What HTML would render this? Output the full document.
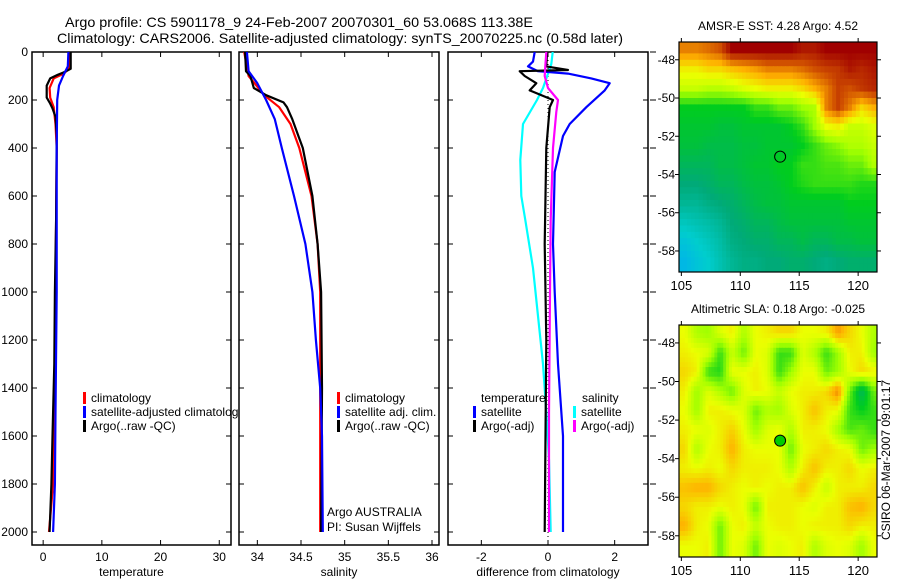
<!DOCTYPE html>
<html><head><meta charset="utf-8"><style>
html,body{margin:0;padding:0;background:#fff;width:900px;height:580px;overflow:hidden}
svg{display:block;font-family:"Liberation Sans",sans-serif}
</style></head><body>
<svg id="fig" width="900" height="580" viewBox="0 0 900 580">
<text x="65" y="27" font-size="14" textLength="468" lengthAdjust="spacingAndGlyphs">Argo profile: CS 5901178_9 24-Feb-2007 20070301_60 53.068S 113.38E</text>
<text x="57" y="43" font-size="14" textLength="566" lengthAdjust="spacingAndGlyphs">Climatology: CARS2006. Satellite-adjusted climatology: synTS_20070225.nc (0.58d later)</text>
<defs>
<clipPath id="c1"><rect x="32" y="52" width="199" height="493"/></clipPath>
<clipPath id="c2"><rect x="239" y="52" width="200" height="493"/></clipPath>
<clipPath id="c3"><rect x="448" y="52" width="200" height="493"/></clipPath>
<clipPath id="cm1"><rect x="679" y="42" width="198" height="230"/></clipPath>
<clipPath id="cm2"><rect x="679" y="325" width="198" height="232"/></clipPath>
<clipPath id="cleg"><rect x="32" y="52" width="206" height="493"/></clipPath>
</defs>
<g id="g1"></g><g id="g2"></g><g id="g3"></g><g id="gm1"></g><g id="gm2"></g>
</svg>
<script>
// ---------- profile data (depth, value) ----------
const tempDepth = [0,70,85,95,110,140,190,215,235,270,350,700,1000,1300,1600,1800,2000];
const tempArgo  = [4.7,4.7,3.5,2.5,1.2,0.6,0.6,1.2,1.6,2.1,2.3,2.2,2.0,1.9,1.6,1.4,1.1];
const tempClimDepth = [0,70,90,110,150,190,230,300,400,1000,1500,1800,2000];
const tempClim  = [4.6,4.4,3.5,1.8,1.1,1.2,1.8,2.1,2.3,2.1,1.9,1.7,1.0];
const tempSatDepth = [0,60,100,140,200,400,1000,1500,1800,2000];
const tempSat   = [4.3,4.2,3.4,2.7,2.4,2.3,2.3,2.1,2.0,1.7];

const salArgoDepth = [0,80,100,150,180,210,230,280,350,400,600,800,1000,1400,2000];
const salArgo   = [33.86,33.87,33.92,33.96,34.1,34.3,34.34,34.4,34.47,34.52,34.63,34.69,34.73,34.74,34.73];
const salClimDepth = [0,100,180,230,300,400,600,800,1000,2000];
const salClim   = [33.85,33.9,34.08,34.25,34.38,34.48,34.62,34.69,34.72,34.72];
const salSatDepth = [0,80,130,200,280,400,600,800,1000,1200,1400,1600,2000];
const salSat    = [33.88,33.9,34.0,34.1,34.2,34.28,34.42,34.55,34.63,34.67,34.72,34.74,34.75];

const dTSatDepth = [0,40,60,80,90,110,130,160,230,300,350,500,800,1000,1300,1600,2000];
const dTSat      = [-0.4,-0.45,-0.6,-0.3,0.6,1.3,1.85,1.7,1.15,0.65,0.45,0.2,0.15,0.2,0.3,0.45,0.45];
const dTArgoDepth = [0,60,75,80,100,130,160,200,230,400,800,1200,2000];
const dTArgo      = [-0.03,-0.05,0.6,-0.85,-0.7,-0.35,-0.55,0.15,0.05,-0.05,-0.1,-0.05,-0.1];
const dSSatDepth = [0,50,90,150,200,300,450,600,700,900,1100,1300,1500,1700,2000];
const dSSat      = [0.14,0.1,0,-0.15,-0.33,-0.75,-0.83,-0.8,-0.68,-0.45,-0.3,-0.15,-0.05,0.03,0.08];
const dSArgoDepth = [0,60,100,150,200,250,400,700,1000,1500,2000];
const dSArgo      = [-0.05,-0.08,-0.1,0,0.3,0.25,0.15,0.08,0.06,0.03,0.03];

const depthTicks = [0,200,400,600,800,1000,1200,1400,1600,1800,2000];
const tempTicks = [0,10,20,30];
const salTicks = [34,34.5,35,35.5,36];
const diffTicks = [-2,0,2];

// ---------- map data (1-degree cells, rows from -47 south, cols from 104.8 east) ----------
const sstGrid = [
[.85,.85,.87,.9,1,1,1,1,1,1,.97,.97,1,1,1,1,1],
[.72,.72,.75,.75,.78,.8,.82,.85,.85,.85,.87,.9,.92,.93,.97,.95,.97],
[.65,.65,.63,.63,.65,.68,.7,.72,.72,.72,.75,.8,.85,.92,.9,.93,.95],
[.45,.45,.45,.45,.45,.45,.5,.5,.55,.55,.6,.62,.85,.92,.85,.75,.8],
[.42,.42,.42,.4,.4,.42,.42,.42,.42,.45,.5,.6,.7,.72,.65,.65,.68],
[.4,.4,.38,.38,.38,.4,.4,.42,.42,.42,.45,.5,.55,.58,.62,.62,.65],
[.35,.35,.35,.38,.38,.4,.42,.42,.45,.45,.5,.5,.52,.52,.55,.55,.62],
[.3,.3,.32,.35,.35,.38,.4,.4,.42,.45,.48,.5,.5,.5,.5,.48,.48],
[.25,.25,.28,.3,.32,.35,.38,.4,.4,.42,.42,.42,.42,.42,.45,.45,.45],
[.18,.2,.22,.25,.3,.32,.35,.35,.38,.4,.4,.4,.4,.4,.42,.42,.42],
[.12,.15,.18,.22,.28,.3,.32,.32,.35,.35,.38,.35,.35,.38,.38,.4,.4],
[.08,.12,.15,.2,.25,.28,.28,.3,.3,.32,.32,.3,.28,.3,.32,.32,.32]];
const slaGrid = [
[.7,.62,.6,.68,.72,.62,.7,.72,.75,.75,.7,.7,.72,.82,.75,.7,.62],
[.72,.7,.68,.5,.65,.55,.7,.68,.5,.5,.68,.62,.5,.6,.72,.72,.6],
[.75,.72,.5,.48,.7,.7,.72,.68,.5,.6,.7,.7,.55,.6,.7,.75,.72],
[.72,.6,.68,.62,.55,.68,.72,.7,.65,.7,.72,.72,.75,.85,.55,.35,.55],
[.7,.6,.72,.72,.7,.68,.55,.62,.6,.68,.72,.78,.72,.7,.5,.45,.5],
[.72,.7,.68,.72,.76,.7,.6,.68,.7,.62,.72,.72,.7,.6,.52,.55,.5],
[.75,.62,.7,.72,.8,.72,.7,.7,.7,.55,.7,.72,.75,.72,.7,.55,.6],
[.72,.7,.72,.7,.75,.72,.72,.72,.7,.62,.72,.78,.72,.72,.75,.7,.72],
[.78,.8,.8,.75,.72,.7,.72,.7,.72,.72,.78,.72,.65,.72,.72,.72,.75],
[.75,.72,.72,.7,.72,.7,.55,.72,.72,.72,.7,.68,.72,.72,.78,.8,.75],
[.8,.72,.7,.55,.7,.72,.65,.7,.72,.72,.7,.72,.72,.72,.75,.72,.72],
[.7,.7,.72,.55,.7,.68,.55,.7,.68,.7,.72,.62,.68,.7,.68,.6,.7]];
const lonTicks = [105,110,115,120];
const latTicks = [-48,-50,-52,-54,-56,-58];
const argoLon = 113.38, argoLat = -53.068;

const NS = "http://www.w3.org/2000/svg";
function el(parent, tag, attrs){ const e=document.createElementNS(NS,tag); for(const k in attrs) e.setAttribute(k,attrs[k]); parent.appendChild(e); return e; }

const yD = d => 52 + d*0.24;
function panel(g, x0, x1, vmin, vmax, ticks, fmt, xlabel, name){
  const sx = v => x0 + (v-vmin)/(vmax-vmin)*(x1-x0);
  const frame = el(g,'rect',{x:x0,y:52,width:x1-x0,height:493,fill:'#fff',stroke:'#000','stroke-width':1.5});
  
  
  ticks.forEach(t=>{
    el(g,'line',{x1:sx(t),x2:sx(t),y1:545,y2:540,stroke:'#000'});
    el(g,'line',{x1:sx(t),x2:sx(t),y1:52,y2:57,stroke:'#000'});
    const tl = el(g,'text',{x:sx(t),y:561,'font-size':12,'text-anchor':'middle'});
    tl.textContent = fmt(t);
    
    
  });
  depthTicks.forEach(d=>{
    el(g,'line',{x1:x0,x2:x0+5,y1:yD(d),y2:yD(d),stroke:'#000'});
    el(g,'line',{x1:x1,x2:x1-5,y1:yD(d),y2:yD(d),stroke:'#000'});
  });
  const xl = el(g,'text',{x:(x0+x1)/2,y:576,'font-size':12,'text-anchor':'middle'});
  xl.textContent = xlabel;
  
  
  return sx;
}
function series(g, sx, depths, vals, color, w, clip, name){
  let p = '';
  depths.forEach((d,i)=>{ p += (i?'L':'M') + sx(vals[i]).toFixed(1) + ' ' + yD(d).toFixed(1); });
  const path = el(g,'path',{d:p,fill:'none',stroke:color,'stroke-width':w,'clip-path':'url(#'+clip+')','stroke-linejoin':'round'});
  
  
}
function legend(g, x, y, color, label, name, clip){
  el(g,'rect',{x:x,y:y-10,width:3,height:12,fill:color});
  const attrs = {x:x+8,y:y,'font-size':12};
  if (clip) attrs['clip-path'] = 'url(#'+clip+')';
  const t = el(g,'text',attrs);
  t.textContent = label;
  
  
}
function txt(g,x,y,s,name,extra){
  const t = el(g,'text',Object.assign({x:x,y:y,'font-size':12},extra||{}));
  t.textContent = s;
  
  
  return t;
}

// panel 1: temperature
const g1 = document.getElementById('g1');
const sT = panel(g1, 32, 231, -1.9, 32, tempTicks, v=>String(v), 'temperature', 'temperature-panel');
depthTicks.forEach(d=>{ txt(g1, 28, yD(d)+4, String(d), 'depth-tick-label', {'text-anchor':'end'}); });
series(g1, sT, tempClimDepth, tempClim, '#f00', 2.2, 'c1', 'temperature-climatology-line');
series(g1, sT, tempDepth, tempArgo, '#000', 2.2, 'c1', 'temperature-argo-line');
series(g1, sT, tempSatDepth, tempSat, '#00f', 2.2, 'c1', 'temperature-satellite-line');
legend(g1, 83, 402, '#f00', 'climatology', 'legend-climatology', 'cleg');
legend(g1, 83, 416, '#00f', 'satellite-adjusted climatology', 'legend-satellite-adjusted', 'cleg');
legend(g1, 83, 430, '#000', 'Argo(..raw -QC)', 'legend-argo-raw', 'cleg');

// panel 2: salinity
const g2 = document.getElementById('g2');
const sS = panel(g2, 239, 439, 33.79, 36.08, salTicks, v=>String(v), 'salinity', 'salinity-panel');
series(g2, sS, salClimDepth, salClim, '#f00', 2.2, 'c2', 'salinity-climatology-line');
series(g2, sS, salArgoDepth, salArgo, '#000', 2.2, 'c2', 'salinity-argo-line');
series(g2, sS, salSatDepth, salSat, '#00f', 2.2, 'c2', 'salinity-satellite-line');
legend(g2, 337, 402, '#f00', 'climatology', 'legend-climatology-sal');
legend(g2, 337, 416, '#00f', 'satellite adj. clim.', 'legend-satellite-sal');
legend(g2, 337, 430, '#000', 'Argo(..raw -QC)', 'legend-argo-sal');
txt(g2, 327, 516, 'Argo AUSTRALIA', 'argo-australia-label');
txt(g2, 327, 531, 'PI: Susan Wijffels', 'pi-label');

// panel 3: differences
const g3 = document.getElementById('g3');
const sDf = panel(g3, 448, 648, -3, 3, diffTicks, v=>String(v), 'difference from climatology', 'difference-panel');
depthTicks.forEach(d=>{ el(g3,'line',{x1:650,x2:656,y1:yD(d),y2:yD(d),stroke:'#000'}); });
el(g3,'line',{x1:sDf(0),x2:sDf(0),y1:52,y2:540,stroke:'#000','stroke-dasharray':'1 3'});
series(g3, sDf, dSSatDepth, dSSat, '#0ff', 2.2, 'c3', 'salinity-satellite-diff-line');
series(g3, sDf, dTSatDepth, dTSat, '#00f', 2.2, 'c3', 'temperature-satellite-diff-line');
series(g3, sDf, dTArgoDepth, dTArgo, '#000', 2.2, 'c3', 'temperature-argo-diff-line');
series(g3, sDf, dSArgoDepth, dSArgo, '#f0f', 2.2, 'c3', 'salinity-argo-diff-line');
txt(g3, 481, 402, 'temperature', 'legend-temperature-heading');
legend(g3, 473, 416, '#00f', 'satellite', 'legend-temp-satellite');
legend(g3, 473, 430, '#000', 'Argo(-adj)', 'legend-temp-argo');
txt(g3, 582, 402, 'salinity', 'legend-salinity-heading');
legend(g3, 573, 416, '#0ff', 'satellite', 'legend-sal-satellite');
legend(g3, 573, 430, '#f0f', 'Argo(-adj)', 'legend-sal-argo');

// colormap
const cstops = [[0,[0,160,255]],[0.15,[0,205,205]],[0.3,[0,170,120]],[0.45,[0,205,30]],[0.6,[160,255,0]],[0.7,[235,255,0]],[0.8,[255,176,0]],[0.9,[208,80,0]],[1,[160,0,0]]];
function cmap(v){
  v=Math.max(0,Math.min(1,v));
  for(let i=1;i<cstops.length;i++){ if(v<=cstops[i][0]){ const a=cstops[i-1],b=cstops[i],t=(v-a[0])/(b[0]-a[0]); return 'rgb('+a[1].map((c,k)=>Math.round(c+(b[1][k]-c)*t)).join(',')+')'; } }
  return 'rgb(160,0,0)';
}
// bilinear sample of a grid at fractional (row, col) cell-centre coordinates
function sample(grid, r, c){
  const R=grid.length, C=grid[0].length;
  r=Math.max(0,Math.min(R-1,r)); c=Math.max(0,Math.min(C-1,c));
  const r0=Math.floor(r), c0=Math.floor(c), r1=Math.min(R-1,r0+1), c1=Math.min(C-1,c0+1);
  const fr=r-r0, fc=c-c0;
  return grid[r0][c0]*(1-fr)*(1-fc)+grid[r0][c1]*(1-fr)*fc+grid[r1][c0]*fr*(1-fc)+grid[r1][c1]*fr*fc;
}
function map(g, top, bottom, grid, title, name, clip, filled, sub){
  const lon0=104.8, lon1=121.6, lat0=-47.07, lat1=-59.1;
  const mx = lo => 679 + (lo-lon0)/(lon1-lon0)*198;
  const my = la => top + (la-lat0)/(lat1-lat0)*(bottom-top);
  const cells = el(g,'g',{'clip-path':'url(#'+clip+')'});
  const R=grid.length, C=grid[0].length;
  for(let i=0;i<R*sub;i++){
    for(let j=0;j<C*sub;j++){
      const rr=(i+0.5)/sub-0.5, cc=(j+0.5)/sub-0.5;
      const v = sample(grid, rr, cc);
      const x=mx(lon0+j/sub), y=my(-47-i/sub);
      const w=mx(lon0+(j+1)/sub)-x+0.6, h=my(-47-(i+1)/sub)-y+0.6;
      const rc = el(cells,'rect',{x:x.toFixed(1),y:y.toFixed(1),width:w.toFixed(1),height:(i===R*sub-1?h+4:h).toFixed(1),fill:cmap(v)});
      
      
    }
  }
  const fr = el(g,'rect',{x:679,y:top,width:198,height:bottom-top,fill:'none',stroke:'#000','stroke-width':1.2});
  
  
  lonTicks.forEach(t=>{
    el(g,'line',{x1:mx(t),x2:mx(t),y1:bottom,y2:bottom+4,stroke:'#000'});
    el(g,'line',{x1:mx(t),x2:mx(t),y1:top,y2:top-4,stroke:'#000'});
    txt(g, mx(t), bottom+18, String(t), name+'-lon-tick-label', {'text-anchor':'middle','font-size':13});
  });
  latTicks.forEach(t=>{
    el(g,'line',{x1:679,x2:675,y1:my(t),y2:my(t),stroke:'#000'});
    el(g,'line',{x1:877,x2:881,y1:my(t),y2:my(t),stroke:'#000'});
    txt(g, 675, my(t)+4, String(t), name+'-lat-tick-label', {'text-anchor':'end','font-size':12});
  });
  txt(g, 778, top-12, title, name+'-title', {'text-anchor':'middle','font-size':12});
  const c = el(g,'circle',{cx:mx(argoLon),cy:my(argoLat),r:5.5,fill:filled?'#0c0':'none',stroke:'#000','stroke-width':1});
  
  
}
map(document.getElementById('gm1'), 42, 272, sstGrid, 'AMSR-E SST: 4.28 Argo: 4.52', 'sst-map', 'cm1', false, 3);
map(document.getElementById('gm2'), 325, 557, slaGrid, 'Altimetric SLA: 0.18 Argo: -0.025', 'sla-map', 'cm2', true, 4);
txt(document.getElementById('gm2'), 0, 0, 'CSIRO 06-Mar-2007 09:01:17', 'timestamp-label', {transform:'translate(890,460) rotate(-90)','text-anchor':'middle','font-size':12});
</script>
</body></html>
